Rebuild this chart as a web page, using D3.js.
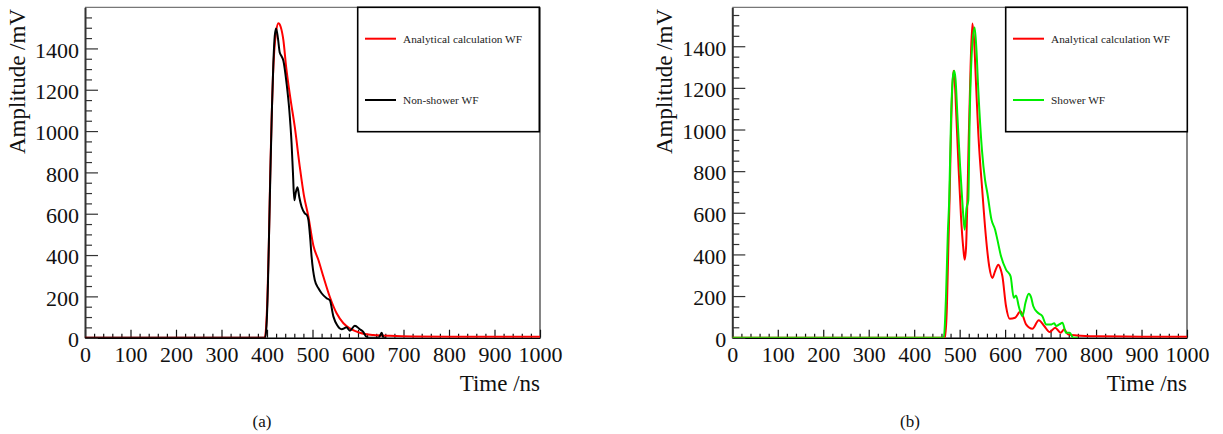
<!DOCTYPE html>
<html>
<head>
<meta charset="utf-8">
<script src="https://cdn.jsdelivr.net/npm/d3@7"></script>
<style>
  html, body { margin: 0; padding: 0; background: #fff; }
  svg { display: block; }
  svg text { font-family: 'Liberation Serif', 'Times New Roman', serif; }
</style>
</head>
<body>
<svg id="chart" width="1223" height="434"></svg>
<script>
// ---------- Data ----------
const xTicks = [0, 100, 200, 300, 400, 500, 600, 700, 800, 900, 1000];
const yTicks = [0, 200, 400, 600, 800, 1000, 1200, 1400];

// Panel (a): analytical calculation waveform
const aAnalyticalT = [0, 395, 398, 401, 404, 407, 410, 413, 416, 420, 425, 430, 436, 442, 452, 461, 472, 481, 491, 502, 513, 524, 538, 553, 568, 582, 604, 634, 670, 720, 800, 900, 1000];
const aAnalyticalV = [0, 0, 50, 200, 450, 780, 1050, 1260, 1390, 1480, 1522, 1505, 1440, 1312, 1150, 1021, 828, 690, 586, 445, 376, 295, 198, 118, 70, 45, 24, 13, 9, 6, 5, 4, 4];
// Panel (a): non-shower waveform
const aNonShowerT = [0, 396, 399, 402, 405, 408, 411, 414, 417, 420, 424, 428, 432, 436, 443, 449, 454, 457, 460, 463, 467, 471, 476, 483, 488, 491, 495, 498, 505, 513, 520, 531, 538, 546, 554, 564, 575, 582, 593, 604, 611, 617, 622, 645, 649, 652, 656, 662];
const aNonShowerV = [0, 0, 60, 250, 550, 850, 1120, 1330, 1460, 1497, 1450, 1380, 1362, 1340, 1231, 1102, 941, 800, 665, 700, 728, 680, 634, 602, 592, 570, 480, 392, 279, 239, 215, 191, 182, 102, 61, 41, 50, 34, 58, 41, 29, 8, 0, 0, 12, 24, 0, 0];

// Panel (b): analytical calculation waveform
const bAnalyticalT = [0, 468, 472, 475, 478, 482, 486, 489, 493, 498, 503, 508, 511, 514, 517, 520, 524, 528, 532, 536, 541, 550, 557, 565, 572, 578, 585, 590, 594, 602, 610, 622, 634, 646, 660, 674, 686, 698, 710, 722, 730, 738, 758, 800, 900, 1000];
const bAnalyticalV = [0, 0, 150, 420, 680, 1080, 1282, 1240, 1050, 800, 580, 430, 375, 430, 660, 960, 1300, 1509, 1420, 1220, 982, 700, 503, 343, 287, 320, 351, 330, 295, 151, 91, 96, 127, 64, 43, 84, 56, 27, 48, 24, 40, 16, 11, 7, 5, 4];
// Panel (b): shower waveform
const bShowerT = [0, 465, 470, 474, 477, 481, 485, 488, 491, 495, 501, 506, 511, 515, 519, 522, 527, 533, 537, 541, 549, 556, 561, 570, 578, 583, 591, 602, 612, 619, 624, 630, 638, 645, 652, 657, 662, 672, 682, 690, 702, 708, 712, 720, 726, 734, 742, 750, 760];
const bShowerV = [0, 0, 200, 500, 660, 1050, 1250, 1282, 1240, 1070, 822, 650, 519, 620, 660, 1050, 1380, 1490, 1380, 1189, 902, 756, 694, 567, 519, 471, 391, 327, 295, 192, 203, 151, 103, 170, 211, 195, 151, 120, 103, 64, 64, 70, 56, 65, 72, 24, 24, 0, 0];

const panels = [
  {
    x0: 85, x1: 540, yTop: 7.3, yBot: 337.7, yMax: 1599,
    caption: "(a)", captionX: 262,
    legend: { x0: 357.7, x1: 539.3, y0: 7.3, y1: 131.7, lineX0: 365, lineX1: 396, textX: 403 },
    series: [
      { name: "Analytical calculation WF", t: aAnalyticalT, v: aAnalyticalV, color: "#ff0000" },
      { name: "Non-shower WF", t: aNonShowerT, v: aNonShowerV, color: "#000000" }
    ]
  },
  {
    x0: 732.3, x1: 1187, yTop: 7.3, yBot: 337.7, yMax: 1587,
    caption: "(b)", captionX: 910,
    legend: { x0: 1005.7, x1: 1187.3, y0: 7.3, y1: 131.7, lineX0: 1013, lineX1: 1044, textX: 1051 },
    series: [
      { name: "Analytical calculation WF", t: bAnalyticalT, v: bAnalyticalV, color: "#ff0000" },
      { name: "Shower WF", t: bShowerT, v: bShowerV, color: "#00ee00" }
    ]
  }
];

const FONT = "Liberation Serif";
const svg = d3.select("#chart");

panels.forEach((p, pi) => {
  const x = d3.scaleLinear().domain([0, 1000]).range([p.x0, p.x1]);
  const y = d3.scaleLinear().domain([0, p.yMax]).range([p.yBot, p.yTop]);
  const g = svg.append("g");

  const clipId = "clip" + pi;
  svg.append("clipPath").attr("id", clipId).append("rect")
    .attr("x", p.x0).attr("y", p.yTop).attr("width", p.x1 - p.x0).attr("height", p.yBot - p.yTop);

  // frame (top and right)
  g.append("line").attr("x1", p.x0).attr("x2", p.x1).attr("y1", p.yTop).attr("y2", p.yTop)
    .attr("stroke", "#777").attr("stroke-width", 1.2);
  g.append("line").attr("x1", p.x1).attr("x2", p.x1).attr("y1", p.yTop).attr("y2", p.yBot)
    .attr("stroke", "#333").attr("stroke-width", 1.2);

  // minor ticks x
  const xMinor = d3.range(0, 1001, 20).filter(v => v % 100 !== 0);
  g.append("g").attr("transform", `translate(0,${p.yBot})`)
    .call(d3.axisBottom(x).tickValues(xMinor).tickSizeInner(-4).tickSizeOuter(0).tickFormat(""))
    .call(s => s.select(".domain").remove())
    .selectAll("line").attr("stroke", "#111").attr("stroke-width", 1.2);
  // minor ticks y
  const yMinor = d3.range(0, p.yMax, 50).filter(v => v % 200 !== 0);
  g.append("g").attr("transform", `translate(${p.x0},0)`)
    .call(d3.axisLeft(y).tickValues(yMinor).tickSizeInner(-7).tickSizeOuter(0).tickFormat(""))
    .call(s => s.select(".domain").remove())
    .selectAll("line").attr("stroke", "#333").attr("stroke-width", 1.2);

  // major x axis
  const gx = g.append("g").attr("transform", `translate(0,${p.yBot})`)
    .call(d3.axisBottom(x).tickValues(xTicks).tickSizeInner(-8).tickSizeOuter(0).tickPadding(9).tickFormat(d3.format("d")));
  gx.attr("font-family", null).attr("font-size", null);
  gx.select(".domain").attr("stroke", "#000").attr("stroke-width", 1.6);
  gx.selectAll(".tick line").attr("stroke", "#111").attr("stroke-width", 1.2);
  gx.selectAll("text").style("font-family", FONT).style("font-size", "22px").attr("fill", "#111");

  // major y axis
  const gy = g.append("g").attr("transform", `translate(${p.x0},0)`)
    .call(d3.axisLeft(y).tickValues(yTicks).tickSizeInner(-13).tickSizeOuter(0).tickPadding(6).tickFormat(d3.format("d")));
  gy.attr("font-family", null).attr("font-size", null);
  gy.select(".domain").attr("stroke", "#333").attr("stroke-width", 2);
  gy.selectAll(".tick line").attr("stroke", "#333").attr("stroke-width", 1.2);
  gy.selectAll("text").style("font-family", FONT).style("font-size", "22px").attr("fill", "#111").attr("dy", "0.4em");

  // axis titles
  g.append("text").attr("x", p.x1).attr("y", 391).attr("text-anchor", "end")
    .style("font-family", FONT).style("font-size", "23px").attr("fill", "#111").text("Time /ns");
  g.append("text").attr("transform", `translate(${p.x0 - 60},9) rotate(-90)`).attr("text-anchor", "end")
    .style("font-family", FONT).style("font-size", "23px").attr("fill", "#111").text("Amplitude /mV");

  // series
  const line = d3.line().x(d => x(d[0])).y(d => y(d[1])).curve(d3.curveMonotoneX);
  const lg = g.append("g").attr("clip-path", `url(#${clipId})`);
  p.series.forEach(s => {
    const pts = s.t.map((t, i) => [t, s.v[i]]);
    lg.append("path").datum(pts).attr("d", line)
      .attr("fill", "none").attr("stroke", s.color).attr("stroke-width", 2).attr("stroke-linejoin", "round");
  });

  // legend
  const L = p.legend;
  g.append("rect").attr("x", L.x0).attr("y", L.y0).attr("width", L.x1 - L.x0).attr("height", L.y1 - L.y0)
    .attr("fill", "#fff").attr("stroke", "#000").attr("stroke-width", 1.6);
  const rowsY = [38.7, 100];
  p.series.forEach((s, i) => {
    g.append("line").attr("x1", L.lineX0).attr("x2", L.lineX1).attr("y1", rowsY[i]).attr("y2", rowsY[i])
      .attr("stroke", s.color).attr("stroke-width", 2);
    g.append("text").attr("x", L.textX).attr("y", rowsY[i] + 4)
      .style("font-family", FONT).style("font-size", "11.3px").attr("fill", "#222").text(s.name);
  });

  // caption
  g.append("text").attr("x", p.captionX).attr("y", 427).attr("text-anchor", "middle")
    .style("font-family", FONT).style("font-size", "17px").attr("fill", "#111").text(p.caption);
});
</script>
</body>
</html>
